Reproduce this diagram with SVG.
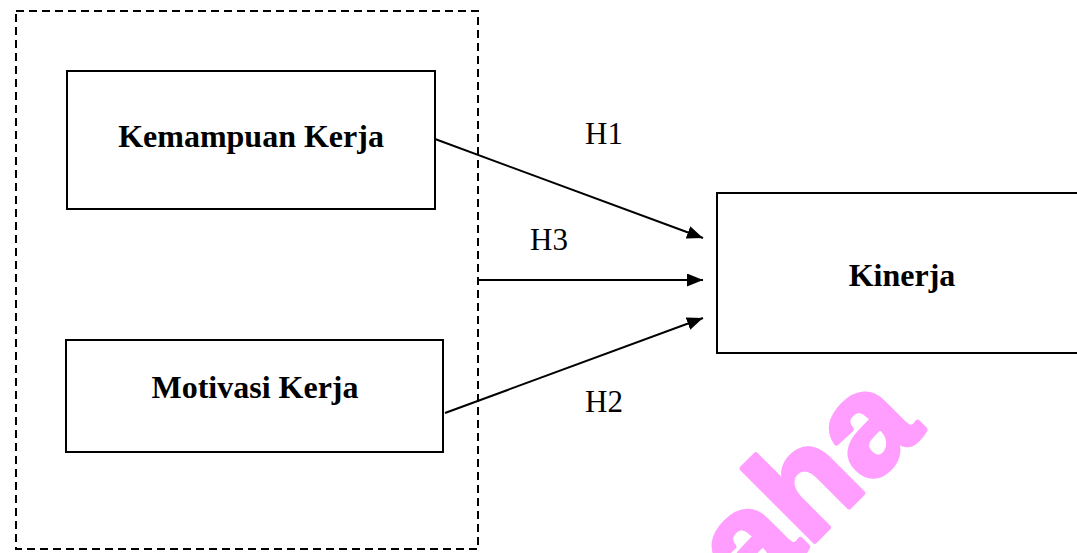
<svg xmlns="http://www.w3.org/2000/svg" width="1077" height="553" viewBox="0 0 1077 553">
  <defs>
    <style>
      .box { fill: #fff; stroke: #000; stroke-width: 2; }
      .group { fill: none; stroke: #000; stroke-width: 2; stroke-dasharray: 8 5; }
      .lbl { font-family: "Liberation Serif", "Times New Roman", serif; font-weight: bold; font-size: 32px; text-anchor: middle; fill: #000; }
      .hyp { font-family: "Liberation Serif", "Times New Roman", serif; font-size: 31px; fill: #000; }
      .edge { stroke: #000; stroke-width: 2; fill: none; marker-end: url(#arrow); }
      .mark { font-family: "Liberation Sans", Arial, sans-serif; font-weight: bold; font-size: 142px; fill: #FF9EFF; stroke: #FF9EFF; stroke-width: 5; stroke-linejoin: round; }
    </style>
    <marker id="arrow" viewBox="0 0 16 13" refX="16" refY="6.5" markerWidth="16" markerHeight="13" markerUnits="userSpaceOnUse" orient="auto">
      <path d="M0,0 L16,6.5 L0,13 z" fill="#000"/>
    </marker>
  </defs>

  <rect width="1077" height="553" fill="#fff"/>

  <!-- watermark -->
  <text class="mark" transform="translate(752,604) rotate(-45)">aha</text>

  <!-- independent variables group -->
  <rect id="group-independent" class="group" x="16" y="11" width="462" height="538"/>

  <g id="node-kemampuan">
    <rect class="box" x="67" y="71" width="368" height="138"/>
    <text class="lbl" x="251" y="147">Kemampuan Kerja</text>
  </g>

  <g id="node-motivasi">
    <rect class="box" x="66" y="340" width="377" height="112"/>
    <text class="lbl" x="255" y="398">Motivasi Kerja</text>
  </g>

  <g id="node-kinerja">
    <rect class="box" x="717" y="193" width="370" height="160"/>
    <text class="lbl" x="902" y="286">Kinerja</text>
  </g>

  <g id="connectors">
    <line class="edge" x1="435" y1="139" x2="703" y2="238"/>
    <line class="edge" x1="478" y1="280" x2="703" y2="280"/>
    <line class="edge" x1="445" y1="413" x2="703" y2="318"/>
    <text class="hyp" x="585" y="144">H1</text>
    <text class="hyp" x="530" y="250">H3</text>
    <text class="hyp" x="585" y="412">H2</text>
  </g>
</svg>
